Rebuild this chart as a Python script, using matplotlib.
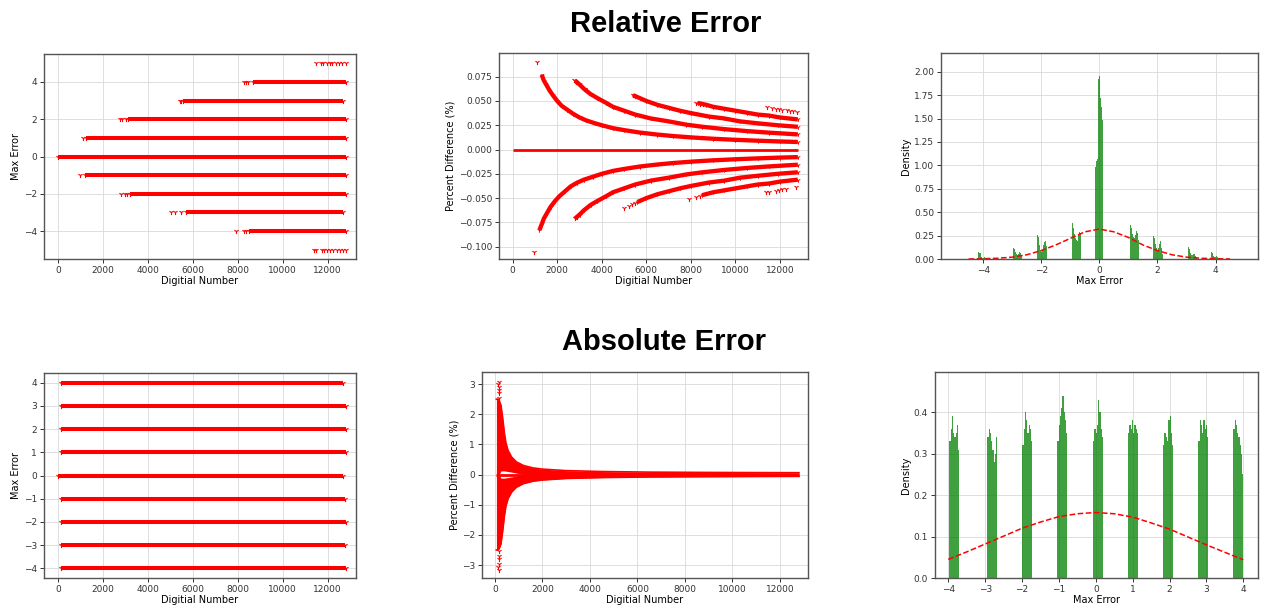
import numpy as np
import matplotlib
matplotlib.use("Agg")
import matplotlib.pyplot as plt

# ── data: relative error ─────────────────────────────────────────
# dense runs of each max-error level along the DN axis
rel_levels = [-4, -3, -2, -1, 0, 1, 2, 3, 4]
rel_run_start = [8500, 5700, 3200, 1200, 0, 1250, 3100, 5550, 8650]
rel_run_end = [12800, 12700, 12800, 12800, 12800, 12800, 12800, 12700, 12800]
# isolated samples before / outside the dense runs
rel_sparse_dn = [11400, 11500, 11750, 11850, 11950, 12100, 12250, 12400, 12550, 12700, 12800,
                 7900, 8250, 8350, 5000, 5200, 5450, 2800, 2950, 3050, 950,
                 1100, 2750, 2850, 3000, 5400, 5450, 8250, 8350, 8450,
                 11500, 11700, 11800, 11950, 12100, 12200, 12350, 12500, 12650, 12800]
rel_sparse_err = [-5, -5, -5, -5, -5, -5, -5, -5, -5, -5, -5,
                  -4, -4, -4, -3, -3, -3, -2, -2, -2, -1,
                  1, 2, 2, 2, 3, 3, 4, 4, 4,
                  5, 5, 5, 5, 5, 5, 5, 5, 5, 5]

# percent difference curves, one list per error level (+1..+4, -1..-4)
rel_pct_dn = [
    [1300, 1400, 1500, 1650, 1800, 2000, 2200, 2450, 2700, 3000, 3300, 3700, 4000, 4500,
     5000, 5700, 6500, 7200, 8000, 9000, 10000, 11000, 12000, 12800],
    [2800, 3000, 3200, 3500, 3800, 4200, 4500, 5000, 5500, 6200, 7000, 7800, 8500, 9500,
     10500, 11500, 12800],
    [5400, 5700, 6000, 6500, 7000, 7500, 8000, 8800, 9500, 10200, 11000, 11900, 12800],
    [8300, 8700, 9000, 9500, 10000, 10500, 11000, 11500, 12000, 12800],
    [1200, 1300, 1400, 1550, 1700, 1900, 2100, 2350, 2600, 2900, 3200, 3600, 4000, 4500,
     5000, 5700, 6500, 7200, 8000, 9000, 10000, 11000, 12000, 12800],
    [2800, 3000, 3200, 3500, 3800, 4200, 4500, 5000, 5500, 6200, 7000, 7800, 8500, 9500,
     10500, 11500, 12800],
    [5600, 6000, 6500, 7000, 7500, 8000, 8800, 9500, 10200, 11000, 11900, 12800],
    [8500, 9000, 9500, 10000, 10500, 11000, 11500, 12000, 12800],
]
rel_pct = [
    [0.077, 0.071, 0.067, 0.061, 0.056, 0.050, 0.045, 0.041, 0.037, 0.033, 0.030, 0.027,
     0.025, 0.022, 0.020, 0.0175, 0.0154, 0.0139, 0.0125, 0.0111, 0.010, 0.0091, 0.0083, 0.0078],
    [0.071, 0.067, 0.0625, 0.057, 0.053, 0.048, 0.044, 0.040, 0.036, 0.032, 0.029, 0.0256,
     0.0235, 0.021, 0.019, 0.0174, 0.0156],
    [0.056, 0.053, 0.050, 0.046, 0.043, 0.040, 0.0375, 0.034, 0.032, 0.029, 0.027, 0.025, 0.0234],
    [0.048, 0.046, 0.044, 0.042, 0.040, 0.038, 0.036, 0.035, 0.033, 0.031],
    [-0.083, -0.077, -0.071, -0.065, -0.059, -0.053, -0.048, -0.043, -0.038, -0.034, -0.031,
     -0.028, -0.025, -0.022, -0.020, -0.0175, -0.0154, -0.0139, -0.0125, -0.0111, -0.010,
     -0.0091, -0.0083, -0.0078],
    [-0.071, -0.067, -0.0625, -0.057, -0.053, -0.048, -0.044, -0.040, -0.036, -0.032, -0.029,
     -0.0256, -0.0235, -0.021, -0.019, -0.0174, -0.0156],
    [-0.054, -0.050, -0.046, -0.043, -0.040, -0.0375, -0.034, -0.032, -0.029, -0.027, -0.025,
     -0.0234],
    [-0.047, -0.044, -0.042, -0.040, -0.038, -0.036, -0.035, -0.033, -0.031],
]
rel_pct_sparse_dn = [1100, 2750, 2850, 3250, 5400, 5500, 8250, 8400, 8550,
                     11400, 11650, 11800, 11950, 12100, 12300, 12450, 12600, 12750,
                     950, 2800, 2900, 5000, 5200, 5350, 5500, 7900, 8250, 8400,
                     11350, 11500, 11800, 11950, 12100, 12250, 12700]
rel_pct_sparse = [0.090, 0.072, 0.070, 0.062, 0.056, 0.055, 0.048, 0.047, 0.047,
                  0.044, 0.043, 0.042, 0.042, 0.041, 0.041, 0.040, 0.040, 0.039,
                  -0.105, -0.071, -0.069, -0.060, -0.058, -0.056, -0.055, -0.051, -0.049, -0.048,
                  -0.044, -0.044, -0.043, -0.042, -0.041, -0.041, -0.039]

# histogram of relative max error: each cluster = left edge + bar heights
rel_bin_w = 0.035
rel_hist_left = [-4.16, -2.97, -2.16, -0.94, -0.14, 1.06, 1.84, 3.05, 3.83]
rel_hist_heights = [
    [0.08, 0.06, 0.02, 0.01, 0.015, 0.02],
    [0.12, 0.11, 0.07, 0.05, 0.04, 0.05, 0.07, 0.06, 0.03],
    [0.26, 0.24, 0.15, 0.10, 0.08, 0.10, 0.15, 0.18, 0.19, 0.14],
    [0.38, 0.33, 0.27, 0.22, 0.20, 0.19, 0.26, 0.29, 0.27],
    [0.98, 1.05, 1.07, 1.92, 1.95, 1.72, 1.62, 1.48],
    [0.36, 0.33, 0.27, 0.23, 0.22, 0.26, 0.30, 0.28, 0.20],
    [0.25, 0.22, 0.16, 0.12, 0.10, 0.12, 0.16, 0.19, 0.12, 0.05],
    [0.13, 0.11, 0.06, 0.04, 0.04, 0.05, 0.05, 0.03, 0.02],
    [0.07, 0.06, 0.03, 0.02, 0.02, 0.03, 0.02, 0.01, 0.015],
]
rel_fit_x = [-4.5, -4, -3.5, -3, -2.5, -2, -1.5, -1, -0.5, 0, 0.5, 1, 1.5, 2, 2.5, 3, 3.5, 4, 4.5]
rel_fit_y = [0.0, 0.003, 0.008, 0.02, 0.045, 0.09, 0.15, 0.22, 0.29, 0.32, 0.29, 0.23, 0.15,
             0.09, 0.045, 0.02, 0.008, 0.003, 0.0]

# ── data: absolute error ─────────────────────────────────────────
abs_levels = [-4, -3, -2, -1, 0, 1, 2, 3, 4]
abs_run_start = [100, 100, 100, 100, 0, 100, 100, 100, 100]
abs_run_end = [12800, 12750, 12800, 12750, 12700, 12800, 12800, 12800, 12700]

# envelope of the percent-difference funnel
abs_env_dn = [60, 130, 180, 250, 320, 400, 460, 550, 700, 900, 1200, 1600, 2000, 3000,
              4500, 6500, 9000, 12800]
abs_env_outer = [2.5, 2.5, 2.45, 2.3, 1.9, 1.35, 1.05, 0.8, 0.58, 0.42, 0.3, 0.22, 0.18, 0.13,
                 0.1, 0.08, 0.07, 0.06]
abs_env_inner = [0.0, 0.0, 0.0, 0.12, 0.12, 0.12, 0.11, 0.10, 0.08, 0.05, 0.0, 0.0, 0.0, 0.0,
                 0.0, 0.0, 0.0, 0.0]
abs_neg_outer = [-2.5, -2.5, -2.45, -2.3, -1.9, -1.35, -1.05, -0.8, -0.58, -0.42, -0.3, -0.22,
                 -0.18, -0.13, -0.1, -0.08, -0.07, -0.06]
abs_spike_dn = [150, 148, 152, 150, 147, 150, 150, 152, 148, 150, 147, 150]
abs_spike_pct = [2.55, 2.7, 2.8, 2.9, 3.0, 3.08, -2.55, -2.7, -2.8, -2.95, -3.05, -3.15]

abs_bin_w = 0.034
abs_hist_left = [-3.97, -2.94, -1.99, -1.04, -0.07, 0.88, 1.83, 2.78, 3.73]
abs_hist_heights = [
    [0.33, 0.36, 0.39, 0.35, 0.34, 0.35, 0.37, 0.31],
    [0.34, 0.36, 0.35, 0.33, 0.31, 0.28, 0.30, 0.34],
    [0.32, 0.36, 0.40, 0.38, 0.35, 0.37, 0.36, 0.33],
    [0.33, 0.37, 0.39, 0.41, 0.44, 0.40, 0.38, 0.35],
    [0.33, 0.36, 0.35, 0.37, 0.43, 0.40, 0.36, 0.34],
    [0.35, 0.37, 0.36, 0.38, 0.35, 0.37, 0.36, 0.35],
    [0.32, 0.35, 0.34, 0.33, 0.38, 0.39, 0.35, 0.32],
    [0.33, 0.38, 0.37, 0.35, 0.38, 0.36, 0.37, 0.34],
    [0.36, 0.38, 0.37, 0.35, 0.34, 0.32, 0.30, 0.25],
]
abs_fit_x = [-4, -3.5, -3, -2.5, -2, -1.5, -1, -0.5, 0, 0.5, 1, 1.5, 2, 2.5, 3, 3.5, 4]
abs_fit_y = [0.045, 0.063, 0.082, 0.101, 0.12, 0.135, 0.148, 0.155, 0.158, 0.155, 0.147,
             0.133, 0.118, 0.099, 0.08, 0.062, 0.044]

# ── figure ───────────────────────────────────────────────────────
W, H = 1264, 610
plt.rcParams['font.family'] = 'DejaVu Sans'
fig = plt.figure(figsize=(W / 100, H / 100), dpi=100)


def px_axes(l, r, t, b):
    return fig.add_axes([l / W, 1 - b / H, (r - l) / W, (b - t) / H])


def style(ax):
    ax.grid(True, color='#d9d9d9', linewidth=0.6)
    ax.set_axisbelow(True)
    ax.tick_params(labelsize=6.5, length=3, width=0.7, pad=2, colors='#333333')
    for s in ax.spines.values():
        s.set_color('#555555')
        s.set_linewidth(1.0)


RED = 'red'
MK = dict(marker='1', color=RED, s=14, linewidths=0.8)
LW = 2.9

# top left: max error vs DN
ax = px_axes(44, 356, 54, 259)
for lvl, x0, x1 in zip(rel_levels, rel_run_start, rel_run_end):
    ax.plot([x0, x1], [lvl, lvl], color=RED, lw=LW, solid_capstyle='butt')
    ax.scatter([x0, x1], [lvl, lvl], **MK)
ax.scatter(rel_sparse_dn, rel_sparse_err, **MK)
ax.set_xlim(-637, 13260)
ax.set_ylim(-5.5, 5.5)
ax.set_xticks(range(0, 12001, 2000))
ax.set_yticks([-4, -2, 0, 2, 4])
ax.set_xlabel('Digitial Number', fontsize=7, labelpad=1)
ax.set_ylabel('Max Error', fontsize=7, labelpad=2)
style(ax)

# top middle: percent difference
ax = px_axes(499, 808, 53, 259)
ax.plot([0, 12800], [0, 0], color=RED, lw=2.0, solid_capstyle='butt')
for xs, ys in zip(rel_pct_dn, rel_pct):
    ax.plot(xs, ys, color=RED, lw=3.1, solid_capstyle='butt')
    ax.scatter(xs, ys, marker='1', color=RED, s=10, linewidths=0.7)
ax.scatter(rel_pct_sparse_dn, rel_pct_sparse, **MK)
ax.set_xlim(-615, 13257)
ax.set_ylim(-0.1127, 0.0994)
ax.set_xticks(range(0, 12001, 2000))
ax.set_yticks([-0.1, -0.075, -0.05, -0.025, 0, 0.025, 0.05, 0.075])
ax.set_yticklabels(['\u22120.100', '\u22120.075', '\u22120.050', '\u22120.025',
                    '0.000', '0.025', '0.050', '0.075'])
ax.set_xlabel('Digitial Number', fontsize=7, labelpad=1)
ax.set_ylabel('Percent Difference (%)', fontsize=7, labelpad=2)
style(ax)

# top right: density of relative max error
ax = px_axes(941, 1258, 53, 259)
for left, hs in zip(rel_hist_left, rel_hist_heights):
    xs = [left + i * rel_bin_w for i in range(len(hs))]
    ax.bar(xs, hs, width=rel_bin_w, align='edge', color='green', alpha=0.75, linewidth=0)
ax.plot(rel_fit_x, rel_fit_y, color=RED, lw=1.1, ls='--')
ax.set_xlim(-5.45, 5.46)
ax.set_ylim(0, 2.2)
ax.set_xticks([-4, -2, 0, 2, 4])
ax.set_yticks(np.arange(0, 2.01, 0.25))
ax.set_xlabel('Max Error', fontsize=7, labelpad=1)
ax.set_ylabel('Density', fontsize=7, labelpad=2)
style(ax)

# bottom left: absolute max error vs DN
ax = px_axes(44, 356, 373, 578)
for lvl, x0, x1 in zip(abs_levels, abs_run_start, abs_run_end):
    ax.plot([x0, x1], [lvl, lvl], color=RED, lw=LW, solid_capstyle='butt')
    ax.scatter([x0, x1], [lvl, lvl], **MK)
ax.set_xlim(-637, 13260)
ax.set_ylim(-4.42, 4.42)
ax.set_xticks(range(0, 12001, 2000))
ax.set_yticks(range(-4, 5))
ax.set_xlabel('Digitial Number', fontsize=7, labelpad=1)
ax.set_ylabel('Max Error', fontsize=7, labelpad=2)
style(ax)

# bottom middle: percent difference funnel
ax = px_axes(482, 808, 372, 578)
ax.fill_between(abs_env_dn, abs_env_inner, abs_env_outer, color=RED, lw=0)
ax.fill_between(abs_env_dn, [-v for v in abs_env_inner], abs_neg_outer, color=RED, lw=0)
ax.plot(abs_env_dn, abs_env_outer, color=RED, lw=1.2)
ax.plot(abs_env_dn, abs_neg_outer, color=RED, lw=1.2)
ax.plot([60, 12800], [0, 0], color=RED, lw=2.0, solid_capstyle='butt')
ax.scatter(abs_spike_dn, abs_spike_pct, **MK)
ax.set_xlim(-547, 13180)
ax.set_ylim(-3.43, 3.40)
ax.set_xticks(range(0, 12001, 2000))
ax.set_yticks(range(-3, 4))
ax.set_xlabel('Digitial Number', fontsize=7, labelpad=1)
ax.set_ylabel('Percent Difference (%)', fontsize=7, labelpad=2)
style(ax)

# bottom right: density of absolute max error
ax = px_axes(935, 1258, 372, 578)
for left, hs in zip(abs_hist_left, abs_hist_heights):
    xs = [left + i * abs_bin_w for i in range(len(hs))]
    ax.bar(xs, hs, width=abs_bin_w, align='edge', color='green', alpha=0.75, linewidth=0)
ax.plot(abs_fit_x, abs_fit_y, color=RED, lw=1.1, ls='--')
ax.set_xlim(-4.36, 4.40)
ax.set_ylim(0, 0.497)
ax.set_xticks(range(-4, 5))
ax.set_yticks([0, 0.1, 0.2, 0.3, 0.4])
ax.set_xlabel('Max Error', fontsize=7, labelpad=1)
ax.set_ylabel('Density', fontsize=7, labelpad=2)
style(ax)

# row titles
fig.text(666 / W, 1 - 24 / H, 'Relative Error', ha='center', va='center',
         fontsize=21, fontweight='bold', family='Liberation Sans')
fig.text(664 / W, 1 - 342 / H, 'Absolute Error', ha='center', va='center',
         fontsize=21, fontweight='bold', family='Liberation Sans')

fig.savefig('out.png', dpi=100)
